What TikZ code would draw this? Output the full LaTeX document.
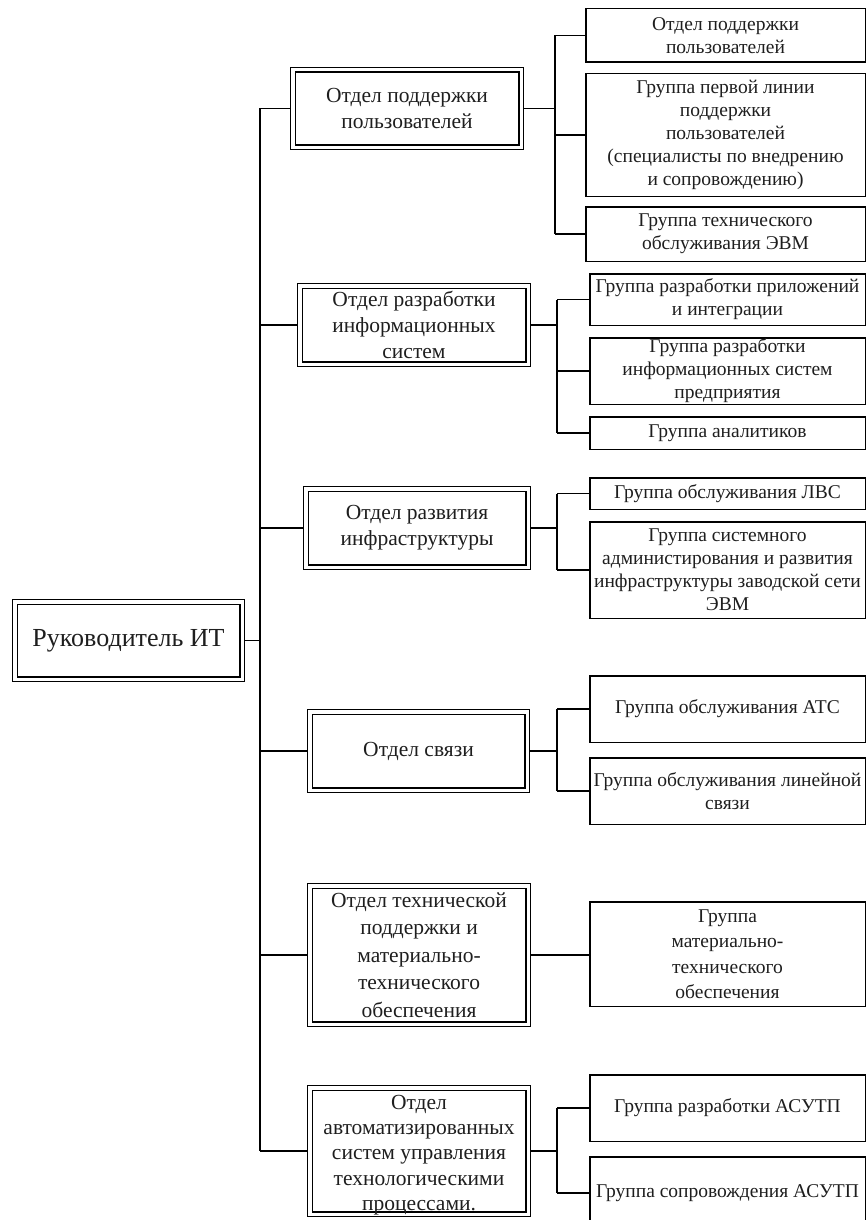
\documentclass[tikz,border=0pt]{standalone}
\usepackage{fontspec}
\setmainfont{Liberation Serif}
\definecolor{txt}{HTML}{1E1E1E}
\begin{document}
\begin{tikzpicture}[x=1pt,y=-1pt,
  conn/.style={line width=1.4pt, black},
  dept/.style={draw, double=white, double distance=3.2pt, line width=1.3pt,
    outer sep=2.9pt, inner sep=0pt, align=center, text=txt,
    font=\fontsize{21.5}{26}\selectfont},
  sub/.style={draw, line width=1.5pt, inner sep=0pt, align=center, text=txt,
    font=\fontsize{19.5}{23}\selectfont},
]
\useasboundingbox (0,0) rectangle (867,1220);
\clip (0,0) rectangle (867,1220);

% root
\node[dept, minimum width=227.2pt, minimum height=77.2pt, font=\fontsize{26}{30}\selectfont]
  (root) at (128.5,640.5) {Руководитель ИТ};

% departments
\node[dept, minimum width=228.2pt, minimum height=77.2pt] (d1) at (407,108.5)
  {Отдел поддержки\\пользователей};
\node[dept, minimum width=228.2pt, minimum height=78.2pt] (d2) at (414,325)
  {Отдел разработки\\информационных\\систем};
\node[dept, minimum width=222.2pt, minimum height=78.2pt] (d3) at (417,528)
  {Отдел развития\\инфраструктуры};
\node[dept, minimum width=217.2pt, minimum height=78.2pt] (d4) at (418.5,751)
  {Отдел связи};
\node[dept, minimum width=218.2pt, minimum height=138.2pt, font=\fontsize{21.5}{27.5}\selectfont] (d5) at (419,955)
  {Отдел технической\\поддержки и\\материально-\\технического\\обеспечения};
\node[dept, minimum width=218.2pt, minimum height=126.2pt,
  label={[align=center, text=txt, font=\fontsize{21.5}{25.3}\selectfont, yshift=-4pt]center:{Отдел\\автоматизированных\\систем управления\\технологическими\\процессами.}}]
  (d6) at (419,1151) {};

% groups
\node[sub, minimum width=279.5pt, minimum height=53.5pt] (s1) at (725.5,35.5)
  {Отдел поддержки\\пользователей};
\node[sub, minimum width=279.5pt, minimum height=122.5pt] (s2) at (725.5,135)
  {Группа первой линии\\поддержки\\пользователей\\(специалисты по внедрению\\и сопровождению)};
\node[sub, minimum width=279.5pt, minimum height=54.5pt] (s3) at (725.5,234)
  {Группа технического\\обслуживания ЭВМ};
\node[sub, minimum width=275.5pt, minimum height=51.5pt] (s4) at (727.5,299.5)
  {Группа разработки приложений\\и интеграции};
\node[sub, minimum width=275.5pt, minimum height=66.5pt] (s5) at (727.5,371)
  {Группа разработки\\информационных систем\\предприятия};
\node[sub, minimum width=275.5pt, minimum height=32.5pt] (s6) at (727.5,433)
  {Группа аналитиков};
\node[sub, minimum width=275.5pt, minimum height=31.5pt] (s7) at (727.5,493.5)
  {Группа обслуживания ЛВС};
\node[sub, minimum width=275.5pt, minimum height=96.5pt] (s8) at (727.5,570)
  {Группа системного\\администирования и развития\\инфраструктуры заводской сети\\ЭВМ};
\node[sub, minimum width=275.5pt, minimum height=66.5pt] (s9) at (727.5,709)
  {Группа обслуживания АТС};
\node[sub, minimum width=275.5pt, minimum height=66.5pt] (s10) at (727.5,791)
  {Группа обслуживания линейной\\связи};
\node[sub, minimum width=275.5pt, minimum height=104.5pt, font=\fontsize{19.5}{25.5}\selectfont] (s11) at (727.5,954)
  {Группа\\материально-\\технического\\обеспечения};
\node[sub, minimum width=275.5pt, minimum height=66.5pt] (s12) at (727.5,1108)
  {Группа разработки АСУТП};
\node[sub, minimum width=275.5pt, minimum height=72.5pt] (s13) at (727.5,1193)
  {Группа сопровождения АСУТП};

% trunk
\coordinate (T) at (260,0);
\coordinate (B1) at (555,0);
\coordinate (B) at (557,0);
\draw[conn] (root.east) -- (root.east -| T);
\draw[conn] (d1.west -| T) -- (d6.west -| T);
\foreach \d in {d1,d2,d3,d4,d5,d6}
  \draw[conn] (\d.west -| T) -- (\d.west);

% dept 1
\draw[conn] (d1.east) -- (d1.east -| B1);
\draw[conn] (s1.west -| B1) -- (s3.west -| B1);
\foreach \s in {s1,s2,s3} \draw[conn] (\s.west -| B1) -- (\s.west);
% dept 2
\draw[conn] (d2.east) -- (d2.east -| B);
\draw[conn] (s4.west -| B) -- (s6.west -| B);
\foreach \s in {s4,s5,s6} \draw[conn] (\s.west -| B) -- (\s.west);
% dept 3
\draw[conn] (d3.east) -- (d3.east -| B);
\draw[conn] (s7.west -| B) -- (s8.west -| B);
\foreach \s in {s7,s8} \draw[conn] (\s.west -| B) -- (\s.west);
% dept 4
\draw[conn] (d4.east) -- (d4.east -| B);
\draw[conn] (s9.west -| B) -- (s10.west -| B);
\foreach \s in {s9,s10} \draw[conn] (\s.west -| B) -- (\s.west);
% dept 5
\draw[conn] (d5.east) -- (d5.east -| s11.west);
% dept 6
\draw[conn] (d6.east) -- (d6.east -| B);
\draw[conn] (s12.west -| B) -- (s13.west -| B);
\foreach \s in {s12,s13} \draw[conn] (\s.west -| B) -- (\s.west);
\end{tikzpicture}
\end{document}
